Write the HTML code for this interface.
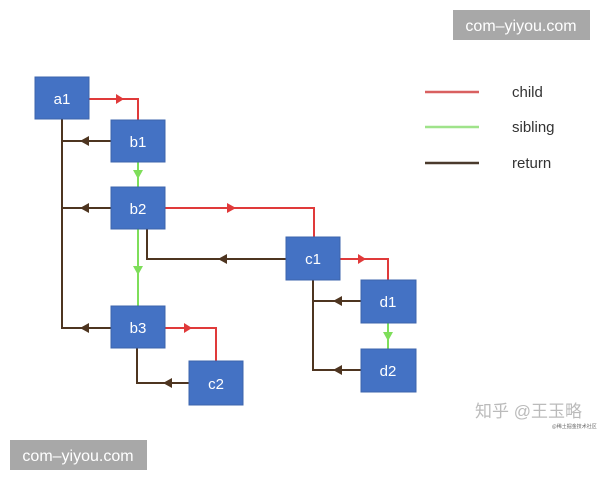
<!DOCTYPE html>
<html><head><meta charset="utf-8"><style>
html,body{margin:0;padding:0;background:#fff;}
svg{display:block;}
.box{fill:#4472c4;stroke:#3c64ad;stroke-width:1}
.lbl{font-family:"Liberation Sans",sans-serif;font-size:15px;fill:#fff;text-anchor:middle;}
.r{stroke:#e03a3a;stroke-width:2;fill:none}
.g{stroke:#7ede5a;stroke-width:2;fill:none}
.k{stroke:#4e3520;stroke-width:2;fill:none}
.leg{font-family:"Liberation Sans",sans-serif;font-size:15px;fill:#333;}
.wm{font-family:"Liberation Sans",sans-serif;font-size:16px;fill:#fff;}
</style></head><body>
<svg width="600" height="480" viewBox="0 0 600 480" xmlns="http://www.w3.org/2000/svg">
<!-- child lines -->
<polyline class="r" points="89,99 138,99 138,120"/>
<polyline class="r" points="165,208 314,208 314,237"/>
<polyline class="r" points="340,259 388,259 388,280"/>
<polyline class="r" points="165,328 216,328 216,361"/>
<polygon fill="#e03a3a" points="116,94 116,104 124,99"/>
<polygon fill="#e03a3a" points="227,203 227,213 236,208"/>
<polygon fill="#e03a3a" points="358,254 358,264 366,259"/>
<polygon fill="#e03a3a" points="184,323 184,333 192,328"/>
<!-- sibling -->
<line class="g" x1="138" y1="162" x2="138" y2="187"/>
<line class="g" x1="138" y1="229" x2="138" y2="306"/>
<line class="g" x1="388" y1="323" x2="388" y2="349"/>
<polygon fill="#7ede5a" points="133,170 143,170 138,179"/>
<polygon fill="#7ede5a" points="133,302 143,302 138,311" transform="translate(0,-36)"/>
<polygon fill="#7ede5a" points="383,332 393,332 388,341"/>
<!-- return -->
<polyline class="k" points="62,119 62,328 111,328"/>
<line class="k" x1="62" y1="164" x2="111" y2="164" transform="translate(0,-23)"/>
<line class="k" x1="62" y1="240" x2="111" y2="240" transform="translate(0,-32)"/>
<polyline class="k" points="147,229 147,259 286,259"/>
<polyline class="k" points="313,280 313,370 361,370"/>
<line class="k" x1="313" y1="301" x2="361" y2="301"/>
<polyline class="k" points="137,348 137,383 189,383"/>
<g fill="#4e3520">
<polygon points="80,141 89,136 89,146"/>
<polygon points="80,208 89,203 89,213"/>
<polygon points="80,328 89,323 89,333"/>
<polygon points="218,259 227,254 227,264"/>
<polygon points="333,301 342,296 342,306"/>
<polygon points="333,370 342,365 342,375"/>
<polygon points="163,383 172,378 172,388"/>
</g>
<!-- boxes -->
<rect class="box" x="35" y="77" width="54" height="42"/><text class="lbl" x="62" y="104">a1</text>
<rect class="box" x="111" y="120" width="54" height="42"/><text class="lbl" x="138" y="147">b1</text>
<rect class="box" x="111" y="187" width="54" height="42"/><text class="lbl" x="138" y="214">b2</text>
<rect class="box" x="286" y="237" width="54" height="43"/><text class="lbl" x="313" y="264">c1</text>
<rect class="box" x="361" y="280" width="55" height="43"/><text class="lbl" x="388" y="307">d1</text>
<rect class="box" x="111" y="306" width="54" height="42"/><text class="lbl" x="138" y="333">b3</text>
<rect class="box" x="189" y="361" width="54" height="44"/><text class="lbl" x="216" y="389">c2</text>
<rect class="box" x="361" y="349" width="55" height="43"/><text class="lbl" x="388" y="376">d2</text>
<!-- legend -->
<line x1="425" y1="92" x2="479" y2="92" stroke="#d96060" stroke-width="2.5"/>
<line x1="425" y1="127" x2="479" y2="127" stroke="#9fe38a" stroke-width="2.5"/>
<line x1="425" y1="163" x2="479" y2="163" stroke="#4a3a2c" stroke-width="2.5"/>
<text class="leg" x="512" y="97">child</text>
<text class="leg" x="512" y="132">sibling</text>
<text class="leg" x="512" y="168">return</text>
<!-- watermarks -->
<rect x="453" y="10" width="137" height="30" fill="#a8a8a8"/>
<text class="wm" x="521" y="31" text-anchor="middle">com–yiyou.com</text>
<rect x="10" y="440" width="137" height="30" fill="#a8a8a8"/>
<text class="wm" x="78" y="461" text-anchor="middle">com–yiyou.com</text>
<text x="475" y="417" font-family="'Liberation Sans','Noto Sans CJK SC',sans-serif" font-size="17" fill="#bbb">知乎 @王玉略</text>
<text x="552" y="428" font-family="'Noto Sans CJK SC',sans-serif" font-size="5" fill="#666">@稀土掘金技术社区</text>
</svg>
</body></html>
